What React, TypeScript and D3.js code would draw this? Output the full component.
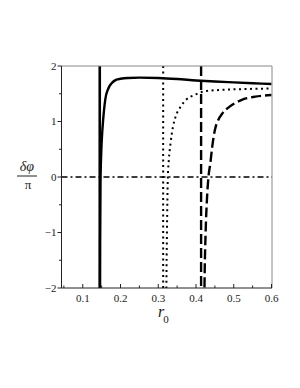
import React from "react";
import * as d3 from "d3";

const xTicks = [0.1, 0.2, 0.3, 0.4, 0.5, 0.6];
const xMinorTicks = [0.05, 0.15, 0.25, 0.35, 0.45, 0.55];
const yTicks = [-2, -1, 0, 1, 2];
const yMinorTicks = [-1.5, -0.5, 0.5, 1.5];

// vertical asymptote positions (r0)
const solidAsymptote = 0.145;
const dottedAsymptote = 0.313;
const dashedAsymptote = 0.4135;

// [r0, δφ/π]
const solidCurve: [number, number][] = [
  [0.1455, -3], [0.146, -1.2], [0.147, -0.1], [0.149, 0.45], [0.1515, 0.8], [0.154, 1.03],
  [0.1595, 1.39], [0.168, 1.6], [0.178, 1.7], [0.188, 1.75], [0.2, 1.77], [0.22, 1.785],
  [0.25, 1.79], [0.3, 1.783], [0.35, 1.765], [0.4, 1.74], [0.45, 1.72], [0.5, 1.705],
  [0.55, 1.69], [0.6, 1.675],
];
const dottedCurve: [number, number][] = [
  [0.3205, -3], [0.3215, -2], [0.323, -1], [0.3254, 0], [0.328, 0.306], [0.3325, 0.607],
  [0.339, 0.906], [0.346, 1.087], [0.3595, 1.267], [0.373, 1.387], [0.3957, 1.477],
  [0.42, 1.54], [0.46, 1.567], [0.52, 1.583], [0.6, 1.595],
];
const dashedCurve: [number, number][] = [
  [0.422, -3], [0.4225, -2], [0.4255, -1], [0.429, -0.4], [0.433, 0], [0.438, 0.25],
  [0.443, 0.546], [0.45, 0.847], [0.459, 1.027], [0.47, 1.147], [0.489, 1.267],
  [0.52, 1.387], [0.557, 1.447], [0.6, 1.477],
];

const W = 300, H = 388;
const L = 61.5, R = 272, T = 66, B = 288;

export default function App() {
  const x = d3.scaleLinear().domain([0.045, 0.6]).range([L + 0.5, R - 0.5]);
  const y = d3.scaleLinear().domain([-2, 2]).range([B, T]);
  const line = d3.line<[number, number]>().x(d => x(d[0])).y(d => y(d[1])).curve(d3.curveMonotoneX);
  const serif = "Liberation Serif, Times New Roman, serif";
  return (
    <svg width={W} height={H} style={{ position: "absolute", left: 0, top: 0 }}>
      <rect width={W} height={H} fill="#fff" />
      <defs>
        <clipPath id="plot">
          <rect x={L} y={T} width={R - L} height={B - T} />
        </clipPath>
      </defs>
      <g clipPath="url(#plot)">
        <line x1={L} x2={R} y1={y(0)} y2={y(0)} stroke="#000" strokeWidth={1.6} strokeDasharray="6,3,2,3" />
        <line x1={x(solidAsymptote)} x2={x(solidAsymptote)} y1={T} y2={B} stroke="#000" strokeWidth={2.6} />
        <line x1={x(dottedAsymptote)} x2={x(dottedAsymptote)} y1={T} y2={B} stroke="#000" strokeWidth={2} strokeDasharray="2,3.5" />
        <line x1={x(dashedAsymptote)} x2={x(dashedAsymptote)} y1={T} y2={B} stroke="#000" strokeWidth={2.4} strokeDasharray="10,4" />
        <path d={line(solidCurve) || ""} fill="none" stroke="#000" strokeWidth={2.4} />
        <path d={line(dottedCurve) || ""} fill="none" stroke="#000" strokeWidth={2} strokeDasharray="2,3.5" />
        <path d={line(dashedCurve) || ""} fill="none" stroke="#000" strokeWidth={2.4} strokeDasharray="10,4" />
      </g>
      {/* frame */}
      <line x1={L} x2={R} y1={T} y2={T} stroke="#888" strokeWidth={1} />
      <line x1={R} x2={R} y1={T} y2={B} stroke="#888" strokeWidth={1} />
      <line x1={L} x2={L} y1={T} y2={B} stroke="#222" strokeWidth={1} />
      <line x1={L} x2={R} y1={B} y2={B} stroke="#222" strokeWidth={1} />
      {/* x ticks */}
      {xTicks.map(t => (
        <g key={"xt" + t}>
          <line x1={x(t)} x2={x(t)} y1={B} y2={B - 4} stroke="#222" />
          <text x={x(t)} y={302} fontFamily={serif} fontSize={11} textAnchor="middle" fill="#222">{t.toFixed(1)}</text>
        </g>
      ))}
      {xMinorTicks.filter(t => x(t) > L + 1).map(t => (
        <line key={"xm" + t} x1={x(t)} x2={x(t)} y1={B} y2={B - 2.5} stroke="#222" />
      ))}
      {/* y ticks */}
      {yTicks.map(t => (
        <g key={"yt" + t}>
          <line x1={L} x2={L - 4} y1={y(t)} y2={y(t)} stroke="#222" />
          <text x={L - 5} y={y(t) + 3.8} fontFamily={serif} fontSize={11} textAnchor="end" fill="#222">{t < 0 ? "\u2212" + Math.abs(t) : String(t)}</text>
        </g>
      ))}
      {yMinorTicks.map(t => (
        <line key={"ym" + t} x1={L} x2={L - 2.5} y1={y(t)} y2={y(t)} stroke="#222" />
      ))}
      {/* y label */}
      <text x={27} y={171} fontFamily={serif} fontSize={14} fontStyle="italic" textAnchor="middle" fill="#222">δφ</text>
      <line x1={17} x2={37} y1={176} y2={176} stroke="#222" strokeWidth={1} />
      <text x={28} y={189} fontFamily={serif} fontSize={13} textAnchor="middle" fill="#222">π</text>
      {/* x label */}
      <text x={161} y={317} fontFamily={serif} fontSize={16} fontStyle="italic" textAnchor="middle" fill="#222">r</text>
      <text x={166} y={323} fontFamily={serif} fontSize={11} textAnchor="middle" fill="#222">0</text>
    </svg>
  );
}
